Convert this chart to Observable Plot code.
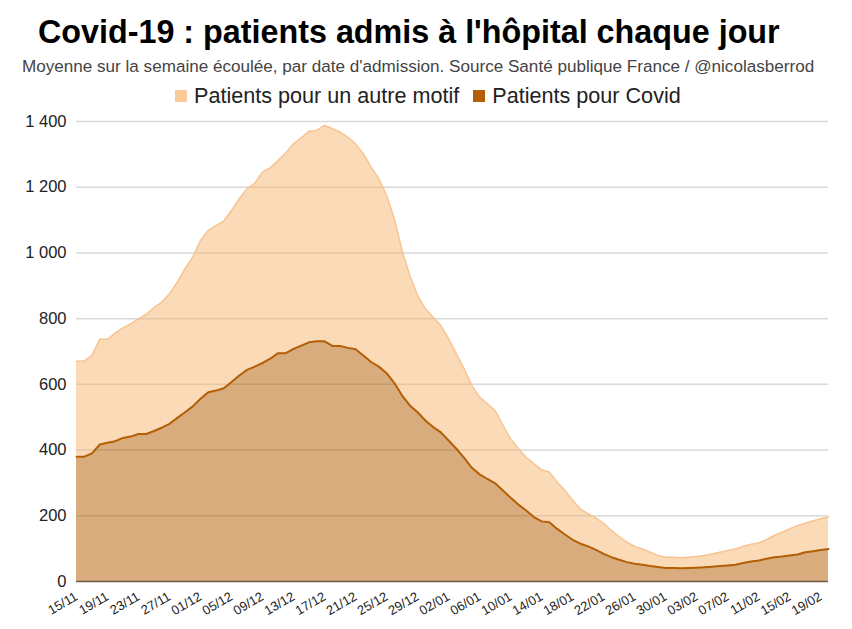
<!DOCTYPE html>
<html>
<head>
<meta charset="utf-8">
<script src="https://cdn.jsdelivr.net/npm/d3@7"></script>
<script src="https://cdn.jsdelivr.net/npm/@observablehq/plot@0.6"></script>
<style>
  html, body { margin: 0; padding: 0; background: #fff; }
  body { width: 852px; height: 629px; position: relative; overflow: hidden; font-family: "Liberation Sans", Arial, sans-serif; }
  .abs { position: absolute; white-space: nowrap; line-height: 1; z-index: 2; }
  #title { left: 38px; top: 16px; font-size: 32.3px; font-weight: bold; color: #000; }
  #subtitle { left: 22px; top: 58px; font-size: 17.1px; color: #444; }
  #legend { left: 175px; top: 85px; font-size: 21.6px; color: #222; display: flex; align-items: center; }
  .sw { display: inline-block; width: 12px; height: 12px; margin-right: 7px; }
  .item { display: flex; align-items: center; margin-right: 14px; }
  #chart { position: absolute; left: 0; top: 100px; z-index: 1; }
</style>
</head>
<body>
<div id="title" class="abs">Covid-19 : patients admis à l'hôpital chaque jour</div>
<div id="subtitle" class="abs">Moyenne sur la semaine écoulée, par date d'admission. Source Santé publique France / @nicolasberrod</div>
<div id="legend" class="abs"></div>
<div id="chart"></div>
<script>
// ---- Data ----
const startDate = "2021-11-15";
const seriesNames = ["Patients pour un autre motif", "Patients pour Covid"];
// Total height of the upper area (covid + autre motif), one value per day
const totalValues = [
  670, 671, 688, 737, 737, 756, 772, 784, 799, 813,
  833, 850, 876, 911, 952, 987, 1038, 1068, 1083, 1097,
  1129, 1165, 1195, 1212, 1246, 1259, 1281, 1304, 1332, 1350,
  1370, 1373, 1388, 1378, 1368, 1352, 1332, 1302, 1261, 1226,
  1175, 1104, 1007, 931, 870, 830, 804, 779, 739, 693,
  647, 596, 561, 541, 520, 475, 434, 404, 378, 358,
  340, 333, 302, 277, 247, 221, 206, 194, 177, 155,
  137, 120, 107, 99, 89, 79, 74, 74, 72, 74,
  76, 79, 84, 89, 94, 99, 107, 113, 117, 127,
  140, 150, 160, 170, 177, 184, 191, 196
];
// Patients pour Covid, one value per day
const covidValues = [
  380, 380, 390, 417, 422, 427, 437, 441, 449, 449,
  458, 468, 480, 498, 515, 533, 556, 576, 581, 588,
  607, 627, 644, 654, 665, 678, 695, 695, 708, 718,
  728, 731, 731, 717, 717, 711, 707, 688, 668, 654,
  634, 604, 566, 536, 515, 490, 470, 454, 429, 404,
  376, 346, 326, 312, 299, 277, 255, 234, 216, 196,
  183, 180, 160, 143, 127, 115, 107, 96, 84, 74,
  66, 59, 54, 51, 47, 44, 41, 41, 40, 41,
  42, 43, 45, 47, 49, 51, 56, 61, 64, 69,
  74, 76, 79, 82, 89, 92, 96, 99
];
const xTickLabels = ["15/11","19/11","23/11","27/11","01/12","05/12","09/12","13/12","17/12","21/12","25/12","29/12","02/01","06/01","10/01","14/01","18/01","22/01","26/01","30/01","03/02","07/02","11/02","15/02","19/02"];
const yTicks = [0, 200, 400, 600, 800, 1000, 1200, 1400];

// ---- Build table ----
const start = new Date(startDate + "T00:00:00Z");
const data = covidValues.map((c, i) => ({
  date: d3.utcDay.offset(start, i),
  covid: c,
  total: totalValues[i]
}));
const xTicks = xTickLabels.map((_, i) => d3.utcDay.offset(start, 4 * i));
const xFmt = (d) => xTickLabels[xTicks.findIndex(t => +t === +d)];
const fr = d3.formatLocale({decimal: ",", thousands: "\u00a0", grouping: [3], currency: ["", " €"]});
const fmt = fr.format(",d");

const colOther = "#f6b26b";
const colCovid = "#b45f06";

// ---- Legend ----
const legend = document.getElementById("legend");
[[seriesNames[0], "#f9cb9c"], [seriesNames[1], colCovid]].forEach(([name, col]) => {
  const it = document.createElement("span");
  it.className = "item";
  it.innerHTML = `<span class="sw" style="background:${col}"></span><span>${name}</span>`;
  legend.appendChild(it);
});

// ---- Chart ----
const chart = Plot.plot({
  width: 852,
  height: 527,
  marginTop: 21,
  marginBottom: 46,
  marginLeft: 76,
  marginRight: 24,
  style: {fontFamily: "'Liberation Sans', Arial, sans-serif", background: "transparent"},
  x: {
    type: "utc",
    domain: [data[0].date, data[data.length - 1].date],
    label: null
  },
  y: {
    domain: [0, 1400],
    label: null
  },
  marks: [
    Plot.gridY(yTicks.filter(v => v > 0), {stroke: "#d9d9d9", strokeOpacity: 1, strokeWidth: 1.5}),
    Plot.areaY(data, {x: "date", y1: "covid", y2: "total", fill: colOther, fillOpacity: 0.48}),
    Plot.areaY(data, {x: "date", y1: 0, y2: "covid", fill: colCovid, fillOpacity: 0.52}),
    Plot.lineY(data, {x: "date", y: "total", stroke: "#f8c493", strokeWidth: 1.5}),
    Plot.lineY(data, {x: "date", y: "covid", stroke: colCovid, strokeWidth: 2}),
    Plot.ruleY([0], {stroke: "#6b5a4a", strokeWidth: 1.5}),
    Plot.axisY({ticks: yTicks, tickFormat: fmt, tickSize: 0, tickPadding: 10, fontSize: 16.5, fill: "#222", label: null}),
    Plot.axisX({ticks: xTicks, tickFormat: xFmt, tickRotate: -30, tickSize: 0, tickPadding: 14, fontSize: 13, fill: "#222", label: null})
  ]
});
document.getElementById("chart").appendChild(chart);
</script>
</body>
</html>
